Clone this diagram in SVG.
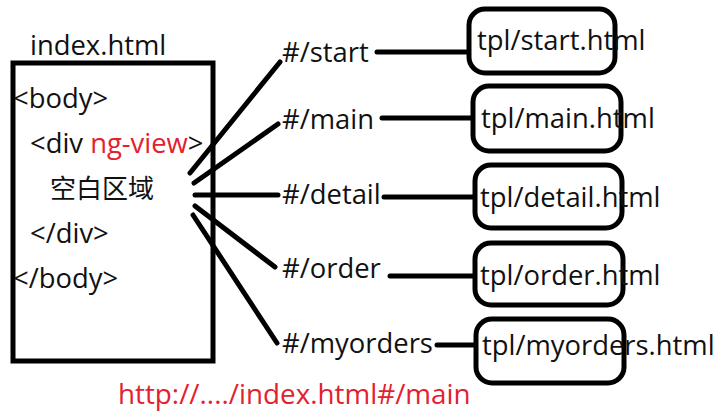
<svg xmlns="http://www.w3.org/2000/svg" width="724" height="415" viewBox="0 0 724 415">
<style>
text{font-family:"Open Sans","Noto Sans CJK SC",sans-serif;font-size:27.4px;fill:#111}
.red{fill:#e3212d}
.cjk{font-family:"Noto Sans CJK SC",sans-serif;font-size:26px}
.ln{stroke:#000;stroke-width:5;stroke-linecap:round;fill:none}
.box{stroke:#000;stroke-width:5;fill:#fff}
</style>
<rect width="724" height="415" fill="#fff"/>
<g id="index">
<text x="30" y="55">index.html</text>
<rect x="13" y="63" width="200" height="298" fill="none" stroke="#000" stroke-width="5"/>
<text x="13" y="108">&lt;body&gt;</text>
<text x="30" y="153">&lt;div <tspan class="red">ng-view</tspan>&gt;</text>
<text class="cjk" x="50" y="198">空白区域</text>
<text x="30" y="243">&lt;/div&gt;</text>
<text x="13" y="288">&lt;/body&gt;</text>
</g>
<g id="connectors">
<line class="ln" x1="190" y1="173" x2="280" y2="62"/>
<line class="ln" x1="194" y1="183" x2="278" y2="124"/>
<line class="ln" x1="195" y1="195" x2="278" y2="195"/>
<line class="ln" x1="195" y1="206" x2="275" y2="267"/>
<line class="ln" x1="193" y1="215" x2="277" y2="343"/>
<line class="ln" x1="377" y1="52" x2="466" y2="52"/>
<line class="ln" x1="382" y1="118" x2="471" y2="118"/>
<line class="ln" x1="384" y1="197" x2="474" y2="197"/>
<line class="ln" x1="390" y1="276" x2="474" y2="276"/>
<line class="ln" x1="437" y1="345" x2="476" y2="345"/>
</g>
<g id="route-start"><text x="282" y="62">#/start</text></g>
<g id="route-main"><text x="282" y="129">#/main</text></g>
<g id="route-detail"><text x="282" y="204">#/detail</text></g>
<g id="route-order"><text x="282" y="278">#/order</text></g>
<g id="route-myorders"><text x="282" y="353">#/myorders</text></g>
<g id="tpl-start"><rect class="box" x="469" y="9" width="146" height="64" rx="16"/><text x="477" y="50">tpl/start.html</text></g>
<g id="tpl-main"><rect class="box" x="473" y="86" width="148" height="65" rx="16"/><text x="481" y="128">tpl/main.html</text></g>
<g id="tpl-detail"><rect class="box" x="475" y="165" width="147" height="63" rx="16"/><text x="480" y="207">tpl/detail.html</text></g>
<g id="tpl-order"><rect class="box" x="475" y="243" width="148" height="62" rx="16"/><text x="480" y="285">tpl/order.html</text></g>
<g id="tpl-myorders"><rect class="box" x="476" y="319" width="148" height="64" rx="16"/><text x="482" y="355">tpl/myorders.html</text></g>
<g id="url"><text class="red" x="118" y="404" style="font-size:27.8px">http://..../index.html#/main</text></g>
</svg>
